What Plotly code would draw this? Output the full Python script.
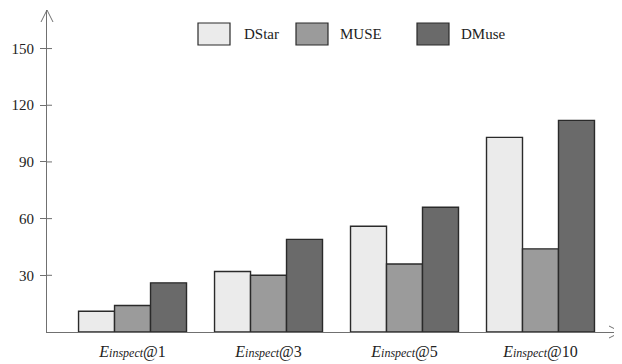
import plotly.graph_objects as go

categories = ["1", "3", "5", "10"]
series_names = ["DStar", "MUSE", "DMuse"]
dstar = [11, 32, 56, 103]
muse = [14, 30, 36, 44]
dmuse = [26, 49, 66, 112]
y_ticks = [30, 60, 90, 120, 150]

colors = ["#ebebeb", "#9b9b9b", "#6a6a6a"]
values = [dstar, muse, dmuse]

xlabels = ["<i>E<span style='font-size:12px'>inspect</span></i>@" + c for c in categories]

fig = go.Figure()
for name, vals, col in zip(series_names, values, colors):
    fig.add_trace(go.Bar(
        x=xlabels, y=vals, name=name,
        marker=dict(color=col, line=dict(color="#2a2a2a", width=1.4)),
    ))

# page body has an 8px margin, compensate
OFF = 8
W, H = 622 - OFF, 364 - OFF
L, R, T, B = 47 - OFF, 1, 10 - OFF, 32
pw, ph = W - L - R, H - T - B
axis_col = "#707070"
FONT = "Liberation Serif"

fig.update_layout(
    width=W, height=H,
    margin=dict(l=L, r=R, t=T, b=B, autoexpand=False),
    paper_bgcolor="white", plot_bgcolor="white",
    barmode="group", bargap=0.206, bargroupgap=0,
    showlegend=False,
    font=dict(family=FONT, size=15, color="#222222"),
    xaxis=dict(range=[-0.629, 3.592], showline=True, linecolor=axis_col, linewidth=1,
               ticks="", showgrid=False, zeroline=False, tickfont=dict(size=16, family=FONT),
               automargin=False, ticklabelstandoff=5),
    yaxis=dict(range=[0, 170.4], tickvals=y_ticks, showline=True, linecolor=axis_col,
               linewidth=1, ticks="outside", ticklen=6, tickcolor=axis_col,
               showgrid=False, zeroline=False, ticklabelstandoff=3,
               tickfont=dict(size=15, family=FONT), automargin=False),
)

# inside part of crossing y ticks
for v in y_ticks:
    fig.add_shape(type="line", xref="paper", yref="y", x0=0, x1=5 / pw, y0=v, y1=v,
                  line=dict(color=axis_col, width=1))

# arrow heads
dx, dy = 6 / pw, 12 / ph
fig.add_shape(type="path", xref="paper", yref="paper",
              path=f"M {-dx} {1 - dy} L 0 1 L {dx} {1 - dy}",
              line=dict(color=axis_col, width=1))
ax, ay = 12 / pw, 6 / ph
fig.add_shape(type="path", xref="paper", yref="paper",
              path=f"M {1 - ax} {ay} L 1 0 L {1 - ax} {-ay}",
              line=dict(color=axis_col, width=1))

# manual legend (positions in window pixels)
legend_x = [198, 296, 417]
legend_tx = [242, 338, 459]
for name, col, bx, tx in zip(series_names, colors, legend_x, legend_tx):
    x0 = (bx - 47) / pw
    x1 = (bx + 32 - 47) / pw
    y0 = 1 - (45 - 10) / ph
    y1 = 1 - (23 - 10) / ph
    fig.add_shape(type="rect", xref="paper", yref="paper", x0=x0, x1=x1, y0=y0, y1=y1,
                  fillcolor=col, line=dict(color="#2a2a2a", width=1.2))
    fig.add_annotation(text=name, xref="paper", yref="paper", x=(tx - 47) / pw,
                       y=(y0 + y1) / 2, xanchor="left", yanchor="middle",
                       showarrow=False, font=dict(size=15, family=FONT))

fig.write_html("out.html")
